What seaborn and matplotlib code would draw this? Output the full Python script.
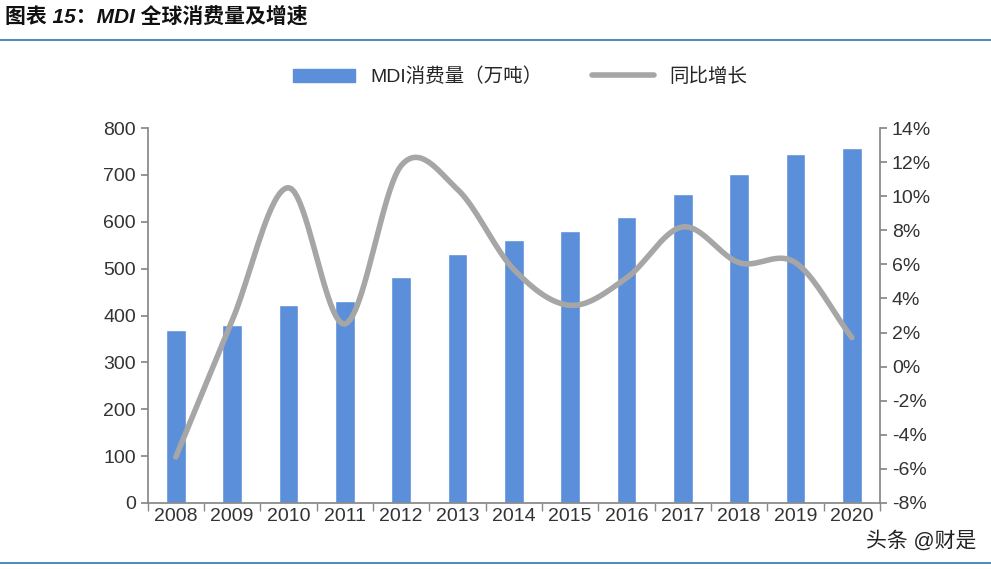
import matplotlib
matplotlib.use("Agg")
import matplotlib.pyplot as plt
import numpy as np
import pandas as pd
import seaborn as sns

sns.set_theme(style="white")
plt.rcParams["font.family"] = ["Liberation Sans", "Noto Sans CJK SC", "DejaVu Sans"]

years = ["2008", "2009", "2010", "2011", "2012", "2013", "2014",
         "2015", "2016", "2017", "2018", "2019", "2020"]
consumption = [370, 380, 422, 430, 482, 532, 562, 580, 610, 660, 702, 745, 757]
growth = [-5.3, 2.7, 10.5, 2.5, 11.8, 10.4, 5.7, 3.6, 5.2, 8.2, 6.1, 6.1, 1.7]

bar_color = "#5B8FD9"
line_color = "#A6A6A6"


def smooth(x, y, n=20):
    # Catmull-Rom style curve through the points, only for drawing
    x = np.asarray(x, float)
    y = np.asarray(y, float)
    px = np.concatenate([[2 * x[0] - x[1]], x, [2 * x[-1] - x[-2]]])
    py = np.concatenate([[2 * y[0] - y[1]], y, [2 * y[-1] - y[-2]]])
    xs, ys = [], []
    t = np.linspace(0, 1, n, endpoint=False)
    for i in range(1, len(px) - 2):
        for p, out in ((px, xs), (py, ys)):
            p0, p1, p2, p3 = p[i - 1], p[i], p[i + 1], p[i + 2]
            out.extend(0.5 * (2 * p1 + (-p0 + p2) * t
                              + (2 * p0 - 5 * p1 + 4 * p2 - p3) * t ** 2
                              + (-p0 + 3 * p1 - 3 * p2 + p3) * t ** 3))
    xs.append(x[-1])
    ys.append(y[-1])
    return np.array(xs), np.array(ys)


df = pd.DataFrame({"year": years, "value": consumption})

fig = plt.figure(figsize=(9.91, 5.69), dpi=100)
ax = fig.add_axes([0.149, 0.116, 0.739, 0.659])
sns.barplot(data=df, x="year", y="value", color=bar_color, width=0.35,
            saturation=1, ax=ax, label="MDI消费量（万吨）", legend=False)
ax.set_ylim(0, 800)
ax.set_yticks(range(0, 801, 100))
ax.set_xlim(-0.5, len(years) - 0.5)
ax.set_xlabel("")
ax.set_ylabel("")
ax.tick_params(axis="both", labelsize=14, colors="#333333")
ax.tick_params(axis="y", length=5, color="#888888", direction="out", left=True)
ax.tick_params(axis="x", length=0)
ax.set_xticks(np.arange(-0.5, len(years), 1), minor=True)
ax.tick_params(axis="x", which="minor", length=6, color="#888888", bottom=True)
for s in ["top", "right"]:
    ax.spines[s].set_visible(False)
for s in ["left", "bottom"]:
    ax.spines[s].set_color("#888888")

ax2 = ax.twinx()
sx, sy = smooth(range(len(years)), growth)
ax2.plot(sx, sy, color=line_color, lw=4, label="同比增长", solid_capstyle="round")
ax2.set_ylim(-8, 14)
ax2.set_yticks(range(-8, 15, 2))
ax2.set_yticklabels([f"{v}%" for v in range(-8, 15, 2)])
ax2.tick_params(axis="y", labelsize=14, colors="#333333", length=5,
                color="#888888", right=True)
for s in ["top", "left", "bottom"]:
    ax2.spines[s].set_visible(False)
ax2.spines["right"].set_color("#888888")
if ax.get_legend() is not None:
    ax.get_legend().remove()

h1 = [plt.Rectangle((0, 0), 1, 1, color=bar_color)]
h2, l2 = ax2.get_legend_handles_labels()
fig.legend(h1 + h2, ["MDI消费量（万吨）"] + l2, loc="center",
           bbox_to_anchor=(0.525, 0.865), ncol=2, frameon=False, fontsize=14,
           handlelength=3.2, columnspacing=2.5)

fig.text(0.005, 0.972, "图表 15：MDI 全球消费量及增速", fontsize=15,
         fontweight="bold", style="italic", va="center", color="#111111")
fig.add_artist(plt.Line2D([0.0, 1.0], [0.93, 0.93], color="#2E75B6", lw=1.2))
fig.add_artist(plt.Line2D([0.0, 1.0], [0.01, 0.01], color="#2E75B6", lw=1.2))
fig.text(0.985, 0.05, "头条 @财是", fontsize=15, ha="right", va="center",
         color="#222222")

fig.savefig("out.png", dpi=100)
